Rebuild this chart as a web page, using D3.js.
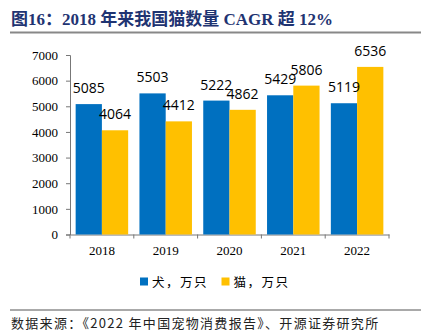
<!DOCTYPE html>
<html><head><meta charset="utf-8">
<script src="https://cdn.jsdelivr.net/npm/d3@7/dist/d3.min.js"></script>
<style>body{margin:0;background:#fff}svg{display:block}</style>
</head><body><svg id="c" width="423" height="336"></svg>
<script>
const years = ["2018","2019","2020","2021","2022"];
const dogs = [5085,5503,5222,5429,5119];
const cats = [4064,4412,4862,5806,6536];
const seriesNames = ["犬，万只","猫，万只"];
const yTicks = [0,1000,2000,3000,4000,5000,6000,7000];
const colors = ["#0070C0","#FFC000"];

const svg = d3.select("#c");
svg.append("text").attr("x",11).attr("y",25)
  .attr("font-family","'Liberation Serif','Noto Sans CJK SC',serif").attr("font-weight","bold")
  .attr("font-size",17).attr("fill","#1F3472")
  .text("图16：2018 年来我国猫数量 CAGR 超 12%");
svg.append("line").attr("x1",10).attr("x2",421).attr("y1",32.5).attr("y2",32.5)
  .attr("stroke","#888").attr("stroke-width",2);

const x = d3.scaleBand().domain(years).range([70,389]).paddingInner(0).paddingOuter(0);
const x1 = d3.scaleBand().domain([0,1]).range([0,x.bandwidth()]).paddingInner(0).paddingOuter(0.215);
const y = d3.scaleLinear().domain([0,7000]).range([234.5,55]);

const ya = svg.append("g").attr("transform","translate(70,0)")
  .call(d3.axisLeft(y).tickValues(yTicks).tickSize(4).tickPadding(8).tickFormat(d3.format("d")));
ya.select(".domain").attr("stroke","#777");
ya.selectAll(".tick line").attr("stroke","#777");
ya.selectAll("text").attr("font-family","'Liberation Serif',serif").attr("font-size",13).attr("fill","#000");

const xa = svg.append("g").attr("transform","translate(0,234.5)")
  .call(d3.axisBottom(x).tickSize(0).tickPadding(11));
xa.select(".domain").attr("stroke","#777");
xa.selectAll("text").attr("font-family","'Liberation Serif',serif").attr("font-size",13).attr("fill","#000");
xa.selectAll(".tk").data(years.concat(["_end"])).enter().append("line")
  .attr("x1",(d,i)=>70+i*x.step()).attr("x2",(d,i)=>70+i*x.step())
  .attr("y1",0).attr("y2",4).attr("stroke","#777");

const data = years.map((yr,i)=>({yr, vals:[dogs[i],cats[i]]}));
const g = svg.append("g");
data.forEach(d=>{
  d.vals.forEach((v,j)=>{
    g.append("rect").attr("x",x(d.yr)+x1(j)).attr("width",x1.bandwidth())
      .attr("y",y(v)).attr("height",y(0)-y(v)).attr("fill",colors[j]);
  });
});
data.forEach(d=>{
  d.vals.forEach((v,j)=>{
    g.append("text").attr("x",x(d.yr)+x1(j)+x1.bandwidth()/2).attr("y",y(v)-11)
      .attr("text-anchor","middle").attr("font-family","'Open Sans','DejaVu Sans',sans-serif")
      .attr("font-size",14).attr("fill","#000").text(v);
  });
});

const leg = svg.append("g");
const legX = [140,221.5];
seriesNames.forEach((n,i)=>{
  leg.append("rect").attr("x",legX[i]).attr("y",277.5).attr("width",8).attr("height",8).attr("fill",colors[i]);
  leg.append("text").attr("x",legX[i]+12).attr("y",286.5).attr("font-family","'Noto Sans CJK SC',sans-serif")
    .attr("font-size",12.5).attr("letter-spacing",1.5).attr("fill","#000").text(n);
});

svg.append("line").attr("x1",10).attr("x2",421).attr("y1",310).attr("y2",310).attr("stroke","#555").attr("stroke-width",1);
svg.append("text").attr("x",11).attr("y",328).attr("font-family","'Noto Sans CJK SC',sans-serif")
  .attr("font-size",13).attr("letter-spacing",1.3).attr("fill","#222").text("数据来源：《2022 年中国宠物消费报告》、开源证券研究所");
</script></body></html>
